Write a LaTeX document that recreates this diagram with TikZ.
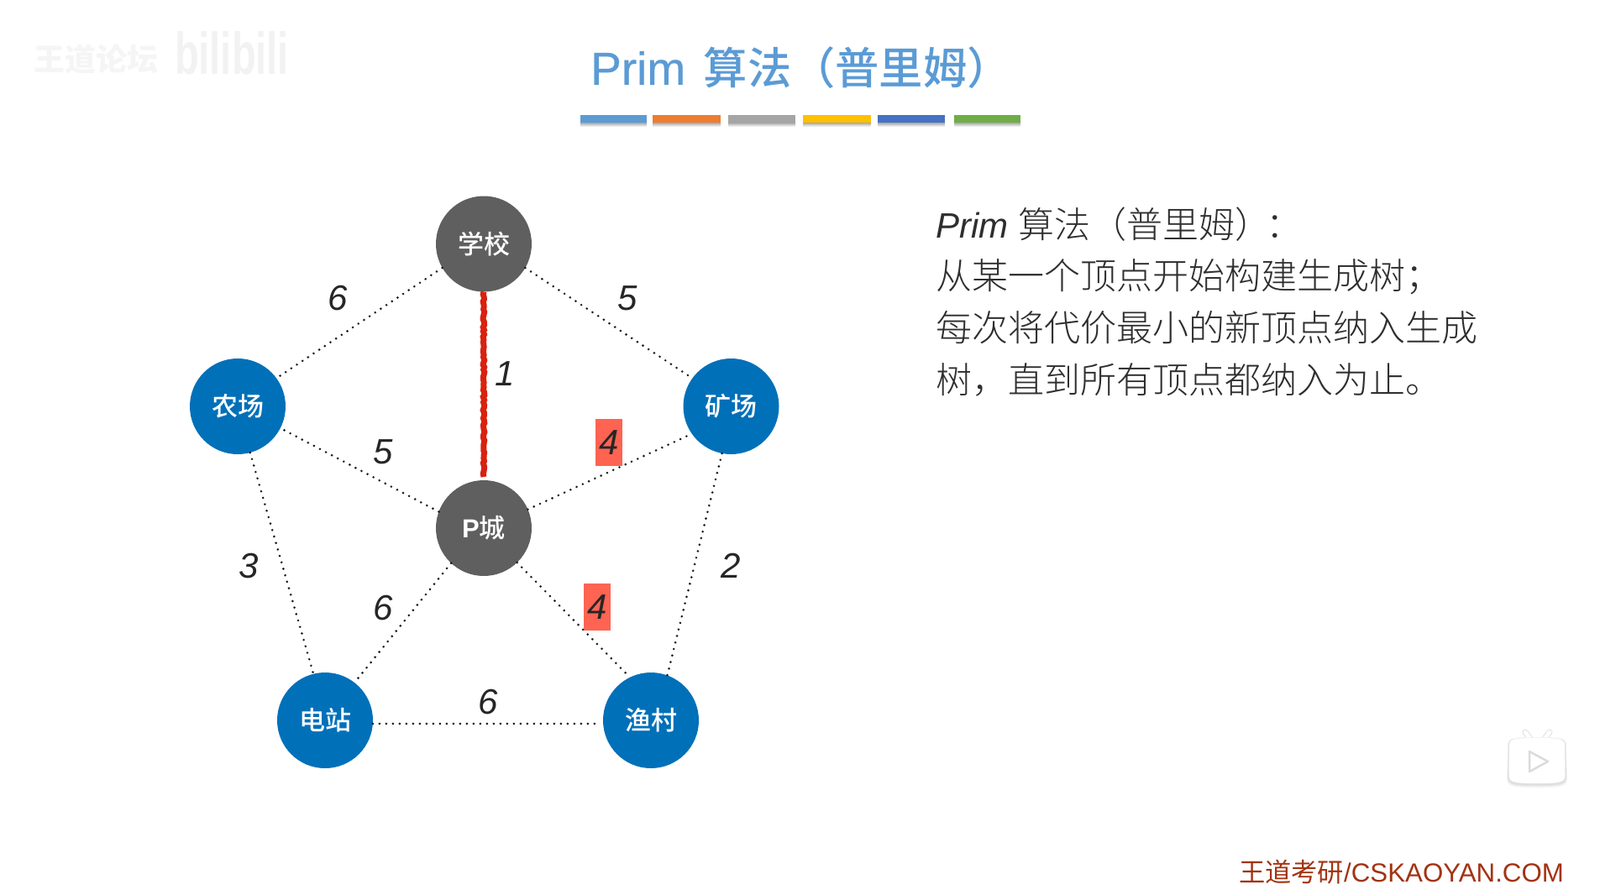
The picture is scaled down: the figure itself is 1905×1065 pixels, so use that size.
\documentclass[tikz,border=0pt]{standalone}
\usepackage{fontspec}
\usetikzlibrary{decorations.pathmorphing}
\setmainfont{Liberation Sans}
\newfontfamily\cjk{Noto Sans CJK SC}
\newfontfamily\cjklight{Noto Sans CJK SC Light}
\newfontfamily\cjkmid{Noto Sans CJK SC Medium}
\newfontfamily\cjktitle{Noto Sans CJK SC Medium}
\newfontfamily\latintitle[FakeBold=0.5]{Liberation Sans}
\definecolor{nodegray}{HTML}{5F5F5F}
\definecolor{nodeblue}{HTML}{0070B9}
\definecolor{titleblue}{HTML}{5B9BD5}
\definecolor{mark}{HTML}{FF6352}
\definecolor{redline}{HTML}{D9210F}
\definecolor{bodyink}{HTML}{2E2E2E}
\definecolor{footink}{HTML}{A23312}
\newcommand{\fs}[1]{\fontsize{#1}{#1}\selectfont}
\tikzset{
  vert/.style={circle,minimum size=114pt,inner sep=0pt,outer sep=0pt,text=white,font=\cjkmid\fs{31}},
  hub/.style={vert,fill=nodegray},
  town/.style={vert,fill=nodeblue},
  road/.style={line width=2.9pt,line cap=round,dash pattern=on 0pt off 8pt,black!90},
  chosen/.style={line width=7pt,redline,decorate,decoration={random steps,segment length=3pt,amplitude=0.9pt}},
  weight/.style={inner sep=0pt,font=\itshape\fs{42},text=black!85},
  markbox/.style={fill=mark,minimum width=32pt,minimum height=56pt,inner sep=0pt},
  bodyline/.style={anchor=west,inner sep=0pt,text=bodyink,font=\cjklight\fs{43}}
}
\begin{document}
\begin{tikzpicture}[x=1pt,y=-1pt]
\useasboundingbox (0,0) rectangle (1905,1065);
% watermark
\node[inner sep=0pt,text=black!4,font=\cjk\bfseries\fs{37}] (wm) at (114,70) {王道论坛};
\node[inner sep=0pt,text=black!5,font=\bfseries\fs{47}] (bili) at (276,63) {\scalebox{1}[1.5]{bilibili}};
% title
\node[inner sep=0pt,anchor=west,text=titleblue,font=\latintitle\fs{55}] (title) at (703,81) {Prim};
\node[inner sep=0pt,anchor=east,text=titleblue,font=\cjktitle\fs{52.3}] (titlecjk) at (1204,81) {算法（普里姆）};
% title bars
\foreach \a/\b/\c in {691/770/5B9BD5,777/858/ED7D31,867/947/A5A5A5,956/1037/FFC000,1045/1125/4472C4,1136/1215/70AD47}{
  \definecolor{barcol}{HTML}{\c}
  \shade[top color=black!35,bottom color=white] (\a,146) rectangle (\b,151);
  \fill[barcol] (\a,137) rectangle (\b,146);
}
% vertices
\node[hub]  (school) at (576,290.5) {学校};
\node[town] (farm)   at (283,484) {农场};
\node[town] (mine)   at (870.5,484) {矿场};
\node[hub]  (pcity)  at (576,629) {{\fontspec{Liberation Sans}\bfseries P}城};
\node[town] (plant)  at (387,858) {电站};
\node[town] (fish)   at (775,858) {渔村};
\coordinate (redend) at ([yshift=4pt]pcity.north);
% edges
\draw[road] (school.210) -- (farm.36);
\draw[road] (school.-30) -- (mine.144);
\draw[road] (pcity.160) -- (farm.-27);
\draw[road] (pcity.23) -- (mine.215);
\draw[road] (pcity.227) -- (plant.52);
\draw[road] (pcity.-46) -- (fish.116);
\draw[road] (farm.-75) -- (plant.104);
\draw[road] (mine.259) -- (fish.70);
\draw[road,shorten >=6pt] (plant.-4) -- (fish.184);
\draw[chosen] (school.south) -- (redend);
% weights
\node[weight] (w1) at (402,355) {6};
\node[weight] (w2) at (747,355) {5};
\node[weight] (w3) at (601,445) {1};
\node[weight] (w4) at (456,538) {5};
\node[weight] (w5) at (296,674) {3};
\node[weight] (w6) at (870,674) {2};
\node[weight] (w7) at (456,724) {6};
\node[weight] (w8) at (581,836) {6};
\node[markbox] (m1) at (725,527) {};
\node[markbox] (m2) at (711,723) {};
\node[weight] at (m1) {4};
\node[weight] at (m2) {4};
% body text
\node[bodyline] (l1) at (1114,267) {{\fontspec{Liberation Sans}\itshape\fs{42}{}Prim}\hspace{2pt} 算法（普里姆）\hspace{-6pt}：};
\node[bodyline] (l2) at (1114,329.5) {从某一个顶点开始构建生成树；};
\node[bodyline] (l3) at (1114,390) {每次将代价最小的新顶点纳入生成};
\node[bodyline] (l4) at (1114,452) {树，直到所有顶点都纳入为止。};
% play icon
\draw[black!12,line width=7pt,line cap=round] (1816,872) -- (1823,881) (1845,872) -- (1838,881);
\draw[white,line width=5pt,line cap=round] (1816,872) -- (1823,881) (1845,872) -- (1838,881);
\fill[black!5] (1795,888) .. controls (1795,879) and (1800,878) .. (1830,878) .. controls (1860,878) and (1865,879) .. (1865,888) -- (1866,926) .. controls (1866,937) and (1860,938) .. (1830,938) .. controls (1800,938) and (1794,937) .. (1794,926) -- cycle;
\fill[black!12] (1796,888) .. controls (1796,880) and (1801,879) .. (1830,879) .. controls (1859,879) and (1864,880) .. (1864,888) -- (1865,925) .. controls (1865,935) and (1859,936) .. (1830,936) .. controls (1801,936) and (1795,935) .. (1795,925) -- cycle;
\fill[white] (1797,888) .. controls (1797,880) and (1802,879) .. (1830,879) .. controls (1858,879) and (1863,880) .. (1863,888) -- (1863.5,923) .. controls (1863.5,932) and (1858,933) .. (1830,933) .. controls (1802,933) and (1796.5,932) .. (1796.5,923) -- cycle;
\draw[black!14,line width=2.5pt,line join=round,fill=white] (1821,895) -- (1843,907) -- (1821,919) -- cycle;
% footer
\node[inner sep=0pt,anchor=west,text=footink,font=\fs{31.25}] (foot) at (1475,1039) {{\cjk 王道考研}/CSKAOYAN.COM};
\end{tikzpicture}
\end{document}
